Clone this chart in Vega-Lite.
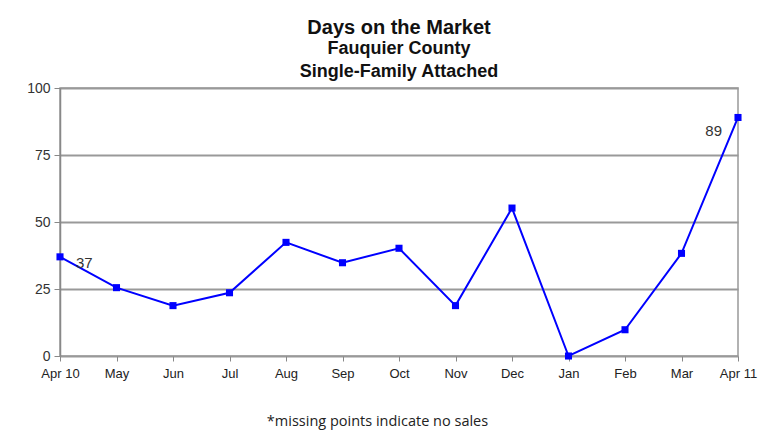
{
  "$schema": "https://vega.github.io/schema/vega-lite/v6.json",
  "autosize": "none",
  "width": 678,
  "height": 268,
  "padding": {"left": 60, "top": 88, "right": 33, "bottom": 85},
  "background": "white",
  "title": {
    "text": "Days on the Market",
    "subtitle": ["Fauquier County", "Single-Family Attached"],
    "anchor": "middle",
    "font": "Liberation Sans",
    "fontSize": 20,
    "fontWeight": "bold",
    "color": "#111",
    "subtitleFont": "Liberation Sans",
    "subtitleFontSize": 18,
    "subtitleFontWeight": "bold",
    "subtitleColor": "#111",
    "subtitleLineHeight": 23,
    "subtitlePadding": 2,
    "offset": 0
  },
  "config": {
    "view": {"stroke": "#999", "strokeWidth": 1.5},
    "font": "Liberation Sans"
  },
  "data": {
    "values": [
      {"month": "Apr 10", "days": 37, "label": "37"},
      {"month": "May", "days": 25.5, "label": ""},
      {"month": "Jun", "days": 18.8, "label": ""},
      {"month": "Jul", "days": 23.6, "label": ""},
      {"month": "Aug", "days": 42.4, "label": ""},
      {"month": "Sep", "days": 34.8, "label": ""},
      {"month": "Oct", "days": 40.2, "label": ""},
      {"month": "Nov", "days": 18.8, "label": ""},
      {"month": "Dec", "days": 55.2, "label": ""},
      {"month": "Jan", "days": 0, "label": ""},
      {"month": "Feb", "days": 9.8, "label": ""},
      {"month": "Mar", "days": 38.3, "label": ""},
      {"month": "Apr 11", "days": 89, "label": "89"}
    ]
  },
  "encoding": {
    "x": {
      "field": "month",
      "type": "ordinal",
      "sort": null,
      "scale": {"type": "point", "padding": 0},
      "axis": {
        "title": "*missing points indicate no sales",
        "titleFont": "Open Sans",
        "titleFontSize": 14.5,
        "titleFontWeight": "normal",
        "titleColor": "#222",
        "titlePadding": 34,
        "titleX": 317,
        "titleAlign": "center",
        "labelAngle": 0,
        "labelFont": "Liberation Sans",
        "labelFontSize": 13,
        "labelColor": "#222",
        "labelPadding": 6,
        "domain": false,
        "tickColor": "#888",
        "tickSize": 5,
        "grid": false
      }
    },
    "y": {
      "field": "days",
      "type": "quantitative",
      "scale": {"domain": [0, 100]},
      "axis": {
        "title": null,
        "values": [0, 25, 50, 75, 100],
        "labelFont": "Liberation Sans",
        "labelFontSize": 14,
        "labelColor": "#333",
        "labelPadding": 4,
        "domainColor": "#888",
        "domainWidth": 1.5,
        "tickColor": "#888",
        "tickSize": 6,
        "gridColor": "#999",
        "gridWidth": 2,
        "gridOpacity": 1
      }
    }
  },
  "layer": [
    {"mark": {"type": "line", "color": "#0000FF", "strokeWidth": 2}},
    {"mark": {"type": "point", "shape": "square", "filled": true, "color": "#0000FF", "size": 50, "opacity": 1}},
    {
      "transform": [{"filter": "datum.label == '37'"}],
      "mark": {"type": "text", "align": "left", "dx": 16, "dy": 6, "fontSize": 15, "color": "#333"},
      "encoding": {"text": {"field": "label"}}
    },
    {
      "transform": [{"filter": "datum.label == '89'"}],
      "mark": {"type": "text", "align": "right", "dx": -16, "dy": 14, "fontSize": 15, "color": "#333"},
      "encoding": {"text": {"field": "label"}}
    }
  ]
}
